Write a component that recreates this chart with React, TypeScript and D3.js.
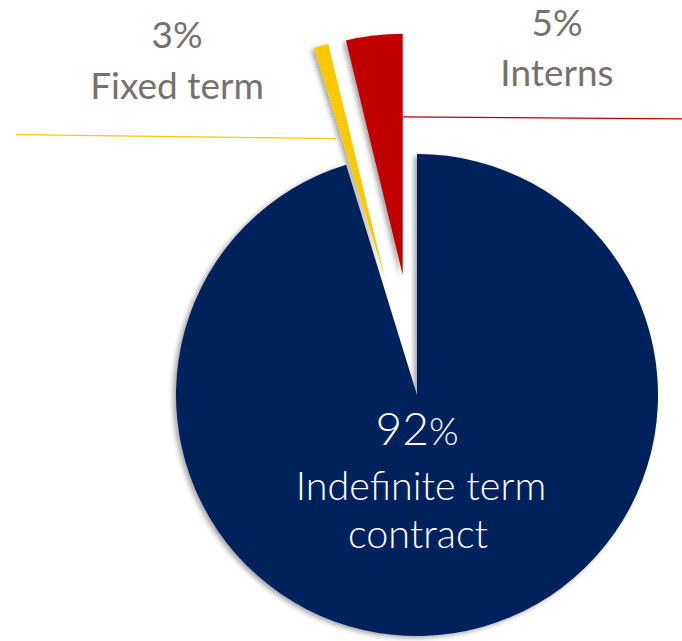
import React, { useEffect, useRef } from 'react';
import * as d3 from 'd3';

// slice shares as drawn (angles), clockwise from 12 o'clock
const categories = ['Indefinite term contract', 'Fixed term', 'Interns'];
const shares = [95.25, 0.97, 3.78];
const percentLabels = ['92', '3', '5'];
const colors = ['#00205B', '#FFC800', '#C00000'];
const exploded = [false, true, true];

const W = 682;
const H = 641;

const App = () => {
  const ref = useRef<SVGSVGElement>(null);

  useEffect(() => {
    const svg = d3.select(ref.current);
    svg.selectAll('*').remove();

    const cx = 417, cy = 395, radius = 241, explode = 121;
    const font = 'Lato, "Open Sans", sans-serif';

    const defs = svg.append('defs');
    const f = defs.append('filter').attr('id', 'shadow')
      .attr('x', '-20%').attr('y', '-20%').attr('width', '140%').attr('height', '140%');
    f.append('feDropShadow')
      .attr('dx', -3).attr('dy', 2).attr('stdDeviation', 2.5)
      .attr('flood-color', '#000').attr('flood-opacity', 0.35);

    const data = categories.map((c, i) => ({ name: c, value: shares[i], i }));
    const pie = d3.pie<any>().sort(null).value(d => d.value);
    const arcs = pie(data);
    const arc = d3.arc<any>().innerRadius(0).outerRadius(radius);

    const g = svg.append('g').attr('transform', `translate(${cx},${cy})`);

    const offset = (a: any) => {
      if (!exploded[a.data.i]) return [0, 0];
      const mid = (a.startAngle + a.endAngle) / 2;
      return [Math.sin(mid) * explode, -Math.cos(mid) * explode];
    };

    g.selectAll('path.slice')
      .data(arcs)
      .join('path')
      .attr('class', 'slice')
      .attr('d', arc)
      .attr('fill', d => colors[d.data.i])
      .attr('filter', 'url(#shadow)')
      .attr('transform', d => {
        const [dx, dy] = offset(d);
        return `translate(${dx},${dy})`;
      });

    // leader lines from the exploded slices out to the labels
    const yellow = arcs[1], red = arcs[2];
    const [yx, yy] = offset(yellow);
    const [rx, ry] = offset(red);
    const ya = yellow.startAngle - 0.04, yr = 148;
    const ra = red.endAngle, rr = 158;
    const yStart = [cx + yx + Math.sin(ya) * yr, cy + yy - Math.cos(ya) * yr];
    const rStart = [cx + rx + Math.sin(ra) * rr, cy + ry - Math.cos(ra) * rr];

    svg.append('line')
      .attr('x1', yStart[0]).attr('y1', yStart[1])
      .attr('x2', 16).attr('y2', yStart[1] - 4)
      .attr('stroke', colors[1]).attr('stroke-width', 1.3);
    svg.append('line')
      .attr('x1', rStart[0]).attr('y1', rStart[1])
      .attr('x2', W).attr('y2', rStart[1] + 2)
      .attr('stroke', colors[2]).attr('stroke-width', 1.3);

    // outside labels
    const grey = '#767171';
    const outside = [
      { i: 1, x: 177, y1: 48, y2: 99 },
      { i: 2, x: 557, y1: 36, y2: 86 },
    ];
    outside.forEach(o => {
      const t = svg.append('text')
        .attr('text-anchor', 'middle')
        .attr('fill', grey)
        .style('font-family', font)
        .style('font-size', '37px');
      t.append('tspan').attr('x', o.x).attr('y', o.y1).text(`${percentLabels[o.i]}%`);
      t.append('tspan').attr('x', o.x).attr('y', o.y2).text(categories[o.i]);
    });

    // main slice label
    const mt = svg.append('text')
      .attr('text-anchor', 'middle')
      .attr('fill', '#fff')
      .style('font-family', font)
      .style('font-weight', 300);
    mt.append('tspan').attr('x', 417).attr('y', 445).style('font-size', '46px').text(percentLabels[0])
      .append('tspan').style('font-size', '38px').text('%');
    mt.append('tspan').attr('x', 421).attr('y', 500).style('font-size', '39.5px').text('Indefinite term');
    mt.append('tspan').attr('x', 418).attr('y', 548).style('font-size', '39.5px').text('contract');
  }, []);

  return (
    <svg ref={ref} width={W} height={H}
      style={{ position: 'absolute', left: 0, top: 0, background: '#fff' }} />
  );
};

export default App;
